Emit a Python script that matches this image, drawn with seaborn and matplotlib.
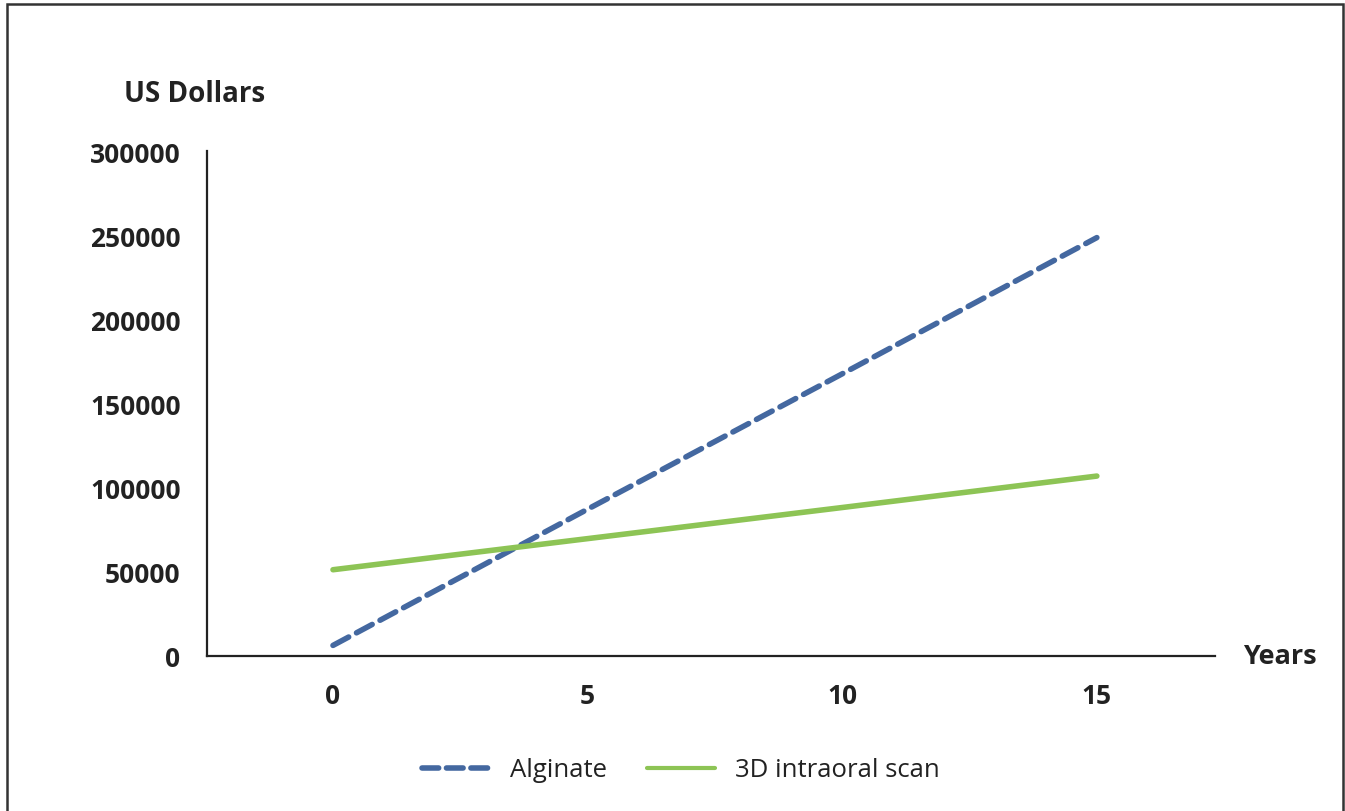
import matplotlib
matplotlib.use("Agg")
import matplotlib.pyplot as plt
import seaborn as sns
import pandas as pd
from matplotlib.patches import Rectangle
from matplotlib.lines import Line2D

years = [0, 5, 10, 15]
alginate = [6000, 87000, 167500, 248500]
intraoral = [51000, 69500, 88000, 106700]
series_names = ["Alginate", "3D intraoral scan"]
y_ticks = [0, 50000, 100000, 150000, 200000, 250000, 300000]
x_ticks = [0, 5, 10, 15]

df = pd.DataFrame({
    "Years": years * 2,
    "Cost": alginate + intraoral,
    "Series": [series_names[0]] * len(years) + [series_names[1]] * len(years),
})

sns.set_style("white")
plt.rcParams['font.family'] = ['Open Sans', 'DejaVu Sans']

blue = "#4468A0"
green = "#8DC455"

fig = plt.figure(figsize=(13.45, 8.12), dpi=100)
ax = fig.add_axes([207/1345, 1 - 656.5/812, (1215-207)/1345, (656.5-152)/812])

sns.lineplot(data=df, x="Years", y="Cost", hue="Series", style="Series",
             palette={series_names[0]: blue, series_names[1]: green},
             dashes={series_names[0]: (3.2, 1.6), series_names[1]: ""},
             linewidth=4, legend=False, ax=ax, solid_capstyle="round",
             dash_capstyle="round")

ax.set_xlim(-2.474, 17.32)
ax.set_ylim(0, 300000)
ax.set_xticks(x_ticks)
ax.set_yticks(y_ticks)
ax.set_xticklabels([str(v) for v in x_ticks], fontsize=19, fontweight="bold", color="#222222")
ax.set_yticklabels([str(v) for v in y_ticks], fontsize=19, fontweight="bold", color="#222222")
ax.tick_params(axis="x", length=0, pad=19)
ax.tick_params(axis="y", length=0, pad=19)
ax.set_xlabel("")
ax.set_ylabel("")
for side in ["top", "right"]:
    ax.spines[side].set_visible(False)
for side in ["left", "bottom"]:
    ax.spines[side].set_color("#222222")
    ax.spines[side].set_linewidth(1.6)

fig.text(195/1345, 1 - 95/812, "US Dollars", ha="center", va="center",
         fontsize=20, fontweight="bold", color="#222222")
fig.text(1280/1345, 1 - 657/812, "Years", ha="center", va="center",
         fontsize=19.5, fontweight="bold", color="#222222")

handles = [Line2D([0], [0], color=blue, lw=4, dashes=(3.0, 1.4), dash_capstyle="round"),
           Line2D([0], [0], color=green, lw=3)]
fig.legend(handles, series_names, loc="center", bbox_to_anchor=(681/1345, 1 - 771/812),
           ncol=2, frameon=False, fontsize=18.5, handlelength=2.65, columnspacing=1.56,
           handletextpad=0.78, labelcolor="#222222")

fig.patches.append(Rectangle((7/1345, -0.05), (1343-7)/1345, 1.05 - 5/812,
                             transform=fig.transFigure, fill=False,
                             edgecolor="#333333", linewidth=1.8))

fig.savefig("out.png", dpi=100, facecolor="white")
